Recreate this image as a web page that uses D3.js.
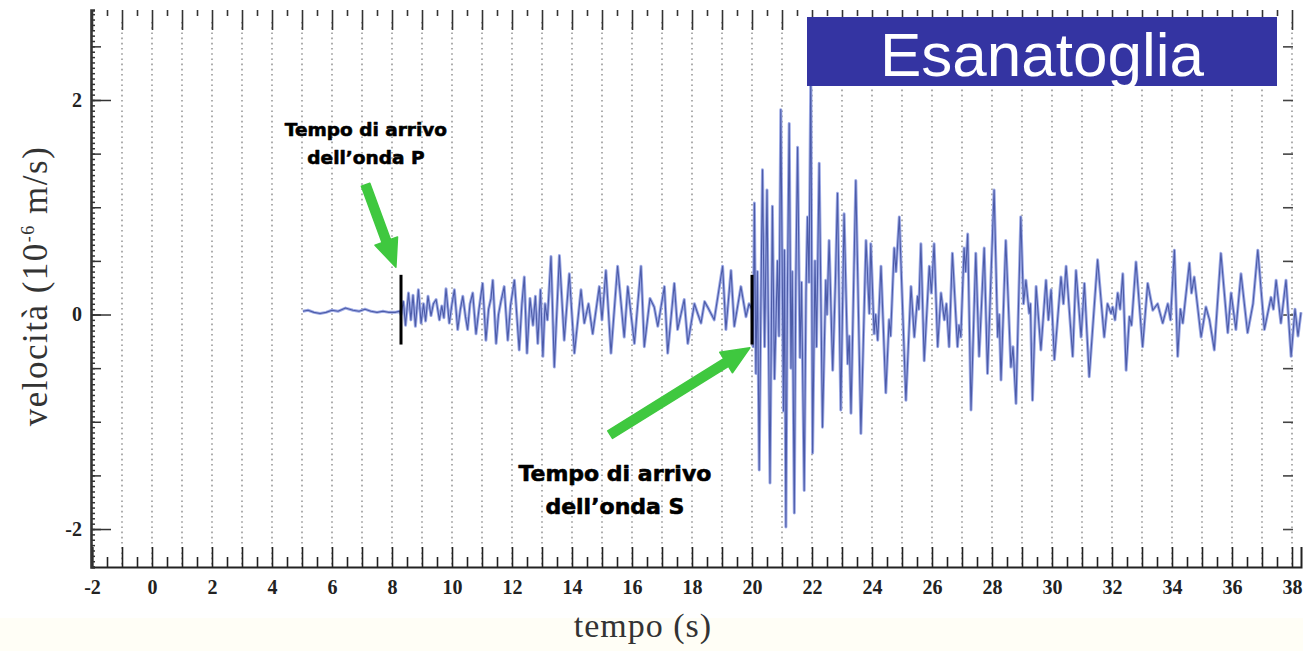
<!DOCTYPE html>
<html>
<head>
<meta charset="utf-8">
<script src="https://cdn.jsdelivr.net/npm/d3@7"></script>
<style>
  body { margin: 0; background: #fff; }
</style>
</head>
<body>
<div id="chart"></div>
<script>
// Seismogram: [time (s), velocity (10^-6 m/s)] at the turning points
const preP = [
  [5.03, 0.03], [5.2, 0.04], [5.4, 0.02], [5.6, 0.01], [5.8, 0.02], [6.0, 0.04], [6.2, 0.03],
  [6.45, 0.06], [6.7, 0.04], [6.9, 0.03], [7.1, 0.05], [7.3, 0.03], [7.5, 0.02], [7.7, 0.03],
  [7.9, 0.02], [8.1, 0.02], [8.25, 0.03]
];
const pCoda = [
  [8.3, 0.0], [8.38, 0.12], [8.45, -0.1], [8.55, 0.2], [8.63, -0.05], [8.7, 0.18], [8.78, -0.11],
  [8.88, 0.23], [8.97, -0.08], [9.05, 0.1], [9.12, -0.06], [9.2, 0.17], [9.3, -0.01], [9.38, 0.1],
  [9.47, 0.14], [9.58, -0.05], [9.66, 0.08], [9.73, -0.03], [9.8, 0.24], [9.91, -0.08], [10.0, 0.1],
  [10.08, 0.23], [10.19, -0.14], [10.28, 0.05], [10.36, 0.17], [10.45, -0.02], [10.52, -0.14],
  [10.6, 0.1], [10.69, 0.2], [10.8, -0.18], [10.9, 0.05], [11.02, 0.29], [11.13, -0.24], [11.22, 0.05],
  [11.3, 0.15], [11.36, 0.32], [11.47, -0.27], [11.55, 0.0], [11.63, 0.12], [11.74, 0.26],
  [11.86, -0.24], [11.95, 0.08], [12.08, 0.32], [12.24, -0.33], [12.33, 0.1], [12.41, 0.35],
  [12.5, -0.36], [12.6, 0.15], [12.7, -0.1], [12.78, 0.17], [12.86, -0.27], [12.95, 0.23],
  [13.03, -0.39], [13.1, 0.1], [13.18, -0.05], [13.3, 0.54], [13.41, -0.49], [13.58, 0.55],
  [13.74, -0.24], [13.91, 0.38], [14.08, -0.36], [14.3, 0.23], [14.41, -0.08], [14.55, 0.1],
  [14.69, -0.18], [14.91, 0.26], [15.0, -0.05], [15.13, 0.41], [15.3, -0.36], [15.52, 0.45],
  [15.74, -0.21], [15.86, 0.26], [16.08, -0.27], [16.3, 0.45], [16.41, -0.3], [16.6, 0.15],
  [16.74, 0.07], [16.86, -0.11], [17.08, 0.26], [17.19, -0.36], [17.41, 0.29], [17.52, -0.14],
  [17.74, 0.14], [17.86, -0.27], [18.08, 0.1], [18.2, 0.0], [18.3, -0.08], [18.42, 0.12],
  [18.52, 0.07], [18.74, -0.05], [19.02, 0.45], [19.13, -0.14], [19.3, 0.41], [19.41, -0.11],
  [19.63, 0.26], [19.8, -0.02], [19.9, 0.1]
];
const sWave = [
  [20.0, 0.05], [20.04, -0.3], [20.08, 1.04], [20.13, -0.55], [20.18, 0.4], [20.24, -1.45],
  [20.3, 0.2], [20.35, 1.35], [20.42, -0.3], [20.5, 1.16], [20.6, -1.57], [20.68, 1.01],
  [20.75, -0.6], [20.85, 0.5], [20.9, -0.2], [20.96, 1.91], [21.05, -0.9], [21.08, 0.6],
  [21.13, -1.98], [21.18, 0.2], [21.24, 1.78], [21.3, -0.5], [21.34, 0.4], [21.41, -1.85],
  [21.46, 0.3], [21.52, 1.56], [21.6, -0.4], [21.65, 0.3], [21.74, -1.64], [21.8, 0.2],
  [21.85, 0.91], [21.9, 0.3], [21.96, 2.25], [22.02, -1.29], [22.1, 0.5], [22.15, -0.3],
  [22.24, 1.41], [22.35, -1.05], [22.46, 0.32], [22.5, 0.0], [22.57, 0.69], [22.69, -0.52],
  [22.78, 0.3], [22.85, 1.13], [22.96, -0.89], [23.07, 0.94], [23.19, -0.46], [23.24, -0.2],
  [23.3, -0.92], [23.46, 1.25], [23.63, -1.11], [23.8, 0.69], [23.91, 0.01], [23.96, 0.66],
  [24.07, -0.18], [24.12, 0.0], [24.19, -0.24], [24.3, 0.45], [24.46, -0.73], [24.57, -0.05],
  [24.62, -0.2], [24.74, 0.62], [24.8, 0.4], [24.91, 0.91], [25.13, -0.8], [25.3, 0.26],
  [25.41, -0.21], [25.52, 0.17], [25.56, 0.05], [25.63, 0.66], [25.74, -0.43], [25.91, 0.45],
  [25.98, 0.2], [26.07, 0.66], [26.19, -0.3], [26.3, 0.2], [26.41, -0.05], [26.48, 0.1],
  [26.57, -0.3], [26.68, 0.57], [26.85, -0.3], [26.9, -0.1], [26.96, -0.21], [27.07, 0.62],
  [27.12, 0.4], [27.19, 0.75], [27.3, -0.89], [27.46, 0.57], [27.57, -0.39], [27.74, 0.62],
  [27.85, -0.55], [28.07, 1.16], [28.19, -0.21], [28.24, 0.0], [28.3, -0.61], [28.46, 0.69],
  [28.63, -0.49], [28.7, -0.3], [28.8, -0.83], [28.96, 0.91], [29.05, 0.1], [29.13, 0.32],
  [29.24, 0.01], [29.28, 0.1], [29.35, -0.8], [29.47, 0.26], [29.63, -0.33], [29.8, 0.32]
];
const coda = [
  [29.88, -0.05], [29.97, 0.23], [30.08, -0.42], [30.3, 0.35], [30.38, 0.1], [30.47, 0.45],
  [30.69, -0.39], [30.8, 0.41], [30.97, -0.21], [31.08, 0.29], [31.24, -0.58], [31.52, 0.51],
  [31.74, -0.21], [31.85, 0.1], [31.97, 0.01], [32.02, 0.07], [32.1, -0.05], [32.19, 0.2],
  [32.27, 0.05], [32.36, 0.38], [32.47, -0.52], [32.58, -0.02], [32.65, -0.1], [32.8, 0.49],
  [33.02, -0.3], [33.19, 0.29], [33.36, 0.04], [33.52, 0.1], [33.69, -0.08], [33.86, 0.1],
  [33.95, -0.05], [34.08, 0.6], [34.19, -0.39], [34.28, 0.05], [34.36, -0.08], [34.58, 0.48],
  [34.65, 0.2], [34.74, 0.35], [34.97, -0.21], [35.13, 0.07], [35.25, -0.05], [35.41, -0.33],
  [35.63, 0.57], [35.86, -0.17], [35.97, 0.2], [36.13, -0.14], [36.3, 0.38], [36.52, -0.17],
  [36.7, 0.1], [36.86, 0.6], [37.08, -0.14], [37.3, 0.16], [37.38, 0.05], [37.47, 0.32],
  [37.63, -0.08], [37.8, 0.32], [37.97, -0.39], [38.1, 0.05], [38.2, -0.2], [38.3, 0.02]
];

// Tick labels
const xTickLabels = [-2, 0, 2, 4, 6, 8, 10, 12, 14, 16, 18, 20, 22, 24, 26, 28, 30, 32, 34, 36, 38];
const yTickLabels = [-2, 0, 2];

// Arrival picks (time, annotation)
const arrivals = [
  { t: 8.3, lines: ["Tempo di arrivo", "dell\u2019onda P"], textT: 7.13, textV: 1.66, size: 18.5,
    arrowFrom: [7.12, 1.21], arrowTo: [8.13, 0.44] },
  { t: 20.0, lines: ["Tempo di arrivo", "dell\u2019onda S"], textT: 15.43, textV: -1.55, size: 22,
    arrowFrom: [15.27, -1.12], arrowTo: [19.93, -0.31] }
];
const markerRange = [-0.28, 0.37];
const stationName = "Esanatoglia";

// Dimensions
const width = 1303, height = 651;

const svg = d3.select("#chart")
  .append("svg")
  .attr("width", width)
  .attr("height", height)
  .style("font-family", "'Liberation Serif', serif");

svg.append("rect").attr("x", 0).attr("y", 618).attr("width", width).attr("height", 33).attr("fill", "#fffef6");

// Scales
const x = d3.scaleLinear().domain([-2, 38.3]).range([92, 1301]);
const y = d3.scaleLinear().domain([-2.354, 2.839]).range([567, 10]);
const fmt = d => String(d);

// Dotted vertical grid at each second
svg.append("g")
  .selectAll("line")
  .data(d3.range(-1, 39))
  .enter()
  .append("line")
  .attr("x1", d => x(d)).attr("x2", d => x(d))
  .attr("y1", y.range()[1] + 12).attr("y2", y.range()[0])
  .attr("stroke", "#8a8a8a")
  .attr("stroke-width", 1.4)
  .attr("stroke-dasharray", "1.6,3.6");

// Bottom axis: long ticks each second, short at half seconds, labels every 2 s
const bottomAxis = svg.append("g").attr("transform", `translate(0,${y.range()[0]})`);
bottomAxis.append("g")
  .call(d3.axisBottom(x).tickValues(d3.range(-2, 39, 1)).tickSize(-20).tickFormat(""))
  .call(g => g.select(".domain").attr("stroke-width", 2).attr("stroke", "#222"));
bottomAxis.append("g")
  .call(d3.axisBottom(x).tickValues(d3.range(-1.5, 38.3, 1)).tickSize(-10).tickFormat(""))
  .call(g => g.select(".domain").remove());
bottomAxis.append("g")
  .call(d3.axisBottom(x).tickValues(xTickLabels).tickSize(0).tickPadding(13).tickFormat(fmt))
  .call(g => g.select(".domain").remove())
  .selectAll("text")
  .style("font-family", "'Liberation Serif', serif")
  .style("font-size", "20px")
  .style("font-weight", "bold")
  .attr("fill", "#222");
bottomAxis.selectAll(".tick line").attr("stroke", "#222").attr("stroke-width", 1.6);

// Top axis ticks
const topAxis = svg.append("g").attr("transform", `translate(0,${y.range()[1]})`);
topAxis.append("g")
  .call(d3.axisTop(x).tickValues(d3.range(-2, 39, 1)).tickSize(-20).tickFormat(""))
  .call(g => g.select(".domain").remove());
topAxis.append("g")
  .call(d3.axisTop(x).tickValues(d3.range(-1.5, 38.3, 1)).tickSize(-6).tickFormat(""))
  .call(g => g.select(".domain").remove());
topAxis.selectAll(".tick line").attr("stroke", "#333").attr("stroke-width", 1.6);

// Left axis: fine ruler, half-unit ticks, labelled ticks
const leftAxis = svg.append("g").attr("transform", `translate(${x(-2) - 1},0)`);
leftAxis.append("g")
  .call(d3.axisLeft(y).tickValues(d3.range(-2.35, 2.84, 0.05)).tickSize(-4).tickFormat(""))
  .call(g => g.select(".domain").attr("stroke-width", 2.6).attr("stroke", "#333"));
leftAxis.append("g")
  .call(d3.axisLeft(y).tickValues(d3.range(-2, 2.6, 0.5)).tickSize(-10).tickFormat(""))
  .call(g => g.select(".domain").remove());
leftAxis.append("g")
  .call(d3.axisLeft(y).tickValues(yTickLabels).tickSize(-20).tickPadding(9).tickFormat(fmt))
  .call(g => g.select(".domain").remove())
  .selectAll("text")
  .style("font-family", "'Liberation Serif', serif")
  .style("font-size", "20px")
  .style("font-weight", "bold")
  .attr("fill", "#222");
leftAxis.selectAll(".tick line").attr("stroke", "#333").attr("stroke-width", 1.5);

// Right axis ticks
svg.append("g")
  .attr("transform", `translate(1293,0)`)
  .call(d3.axisRight(y).tickValues(d3.range(-2, 2.6, 0.5)).tickSize(-10).tickFormat(""))
  .call(g => g.select(".domain").remove())
  .selectAll(".tick line").attr("stroke", "#444").attr("stroke-width", 1.6);

// Waveform: light wide stroke under a darker thin one
const wave = preP.concat(pCoda, sWave, coda);
const line = d3.line().x(d => x(d[0])).y(d => y(d[1]));
svg.append("path")
  .datum(wave)
  .attr("fill", "none")
  .attr("stroke", "#9eabe6")
  .attr("stroke-width", 3)
  .attr("stroke-linejoin", "round")
  .attr("d", line);
svg.append("path")
  .datum(wave)
  .attr("fill", "none")
  .attr("stroke", "#4c5ba8")
  .attr("stroke-width", 1.1)
  .attr("stroke-linejoin", "round")
  .attr("d", line);

// Arrival markers
svg.append("g")
  .selectAll("line")
  .data(arrivals)
  .enter()
  .append("line")
  .attr("x1", d => x(d.t)).attr("x2", d => x(d.t))
  .attr("y1", y(markerRange[1])).attr("y2", y(markerRange[0]))
  .attr("stroke", "#000")
  .attr("stroke-width", 3);

// Green arrows
function arrowPath(from, to) {
  const x0 = x(from[0]), y0 = y(from[1]), x1 = x(to[0]), y1 = y(to[1]);
  const len = Math.hypot(x1 - x0, y1 - y0);
  const ux = (x1 - x0) / len, uy = (y1 - y0) / len, nx = -uy, ny = ux;
  const head = 28, hw = 12, sw = 4.5;
  const bx = x1 - ux * head, by = y1 - uy * head;
  const pts = [
    [x0 + nx * sw, y0 + ny * sw], [bx + nx * sw, by + ny * sw], [bx + nx * hw, by + ny * hw],
    [x1, y1],
    [bx - nx * hw, by - ny * hw], [bx - nx * sw, by - ny * sw], [x0 - nx * sw, y0 - ny * sw]
  ];
  return "M" + pts.map(p => p.join(",")).join("L") + "Z";
}
svg.append("g")
  .selectAll("path")
  .data(arrivals)
  .enter()
  .append("path")
  .attr("d", d => arrowPath(d.arrowFrom, d.arrowTo))
  .attr("fill", "#3fc83f")
  .attr("stroke", "#3fc83f")
  .attr("stroke-width", 1.5)
  .attr("stroke-linejoin", "round");

// Annotation text (heavy, like a black sans)
arrivals.forEach(d => {
  const t = svg.append("text")
    .attr("x", x(d.textT))
    .attr("y", y(d.textV))
    .attr("text-anchor", "middle")
    .style("font-family", "'DejaVu Sans', sans-serif")
    .style("font-weight", "bold")
    .style("font-size", d.size + "px")
    .attr("fill", "#000")
    .attr("stroke", "#000")
    .attr("stroke-width", 0.6)
    .attr("stroke-linejoin", "round");
  d.lines.forEach((s, i) => {
    t.append("tspan")
      .attr("x", x(d.textT))
      .attr("dy", i === 0 ? 0 : d.size * 1.5)
      .text(s);
  });
});

// Station name box
svg.append("rect")
  .attr("x", 807).attr("y", 17)
  .attr("width", 470).attr("height", 69)
  .attr("fill", "#3434a2");
svg.append("text")
  .attr("x", 1042).attr("y", 76)
  .attr("text-anchor", "middle")
  .style("font-family", "'Liberation Sans', Arial, sans-serif")
  .style("font-size", "62px")
  .attr("fill", "#fff")
  .text(stationName);

// Axis titles
svg.append("text")
  .attr("x", 643).attr("y", 637)
  .attr("text-anchor", "middle")
  .style("font-size", "34px")
  .style("letter-spacing", "1px")
  .attr("fill", "#333")
  .text("tempo (s)");

const yl = svg.append("text")
  .attr("transform", "translate(47,286) rotate(-90)")
  .attr("text-anchor", "middle")
  .style("font-size", "35px")
  .style("letter-spacing", "1.5px")
  .attr("fill", "#333");
yl.append("tspan").text("velocità (10");
yl.append("tspan").attr("dy", -13).style("font-size", "18px").text("-6");
yl.append("tspan").attr("dy", 13).text(" m/s)");
</script>
</body>
</html>
